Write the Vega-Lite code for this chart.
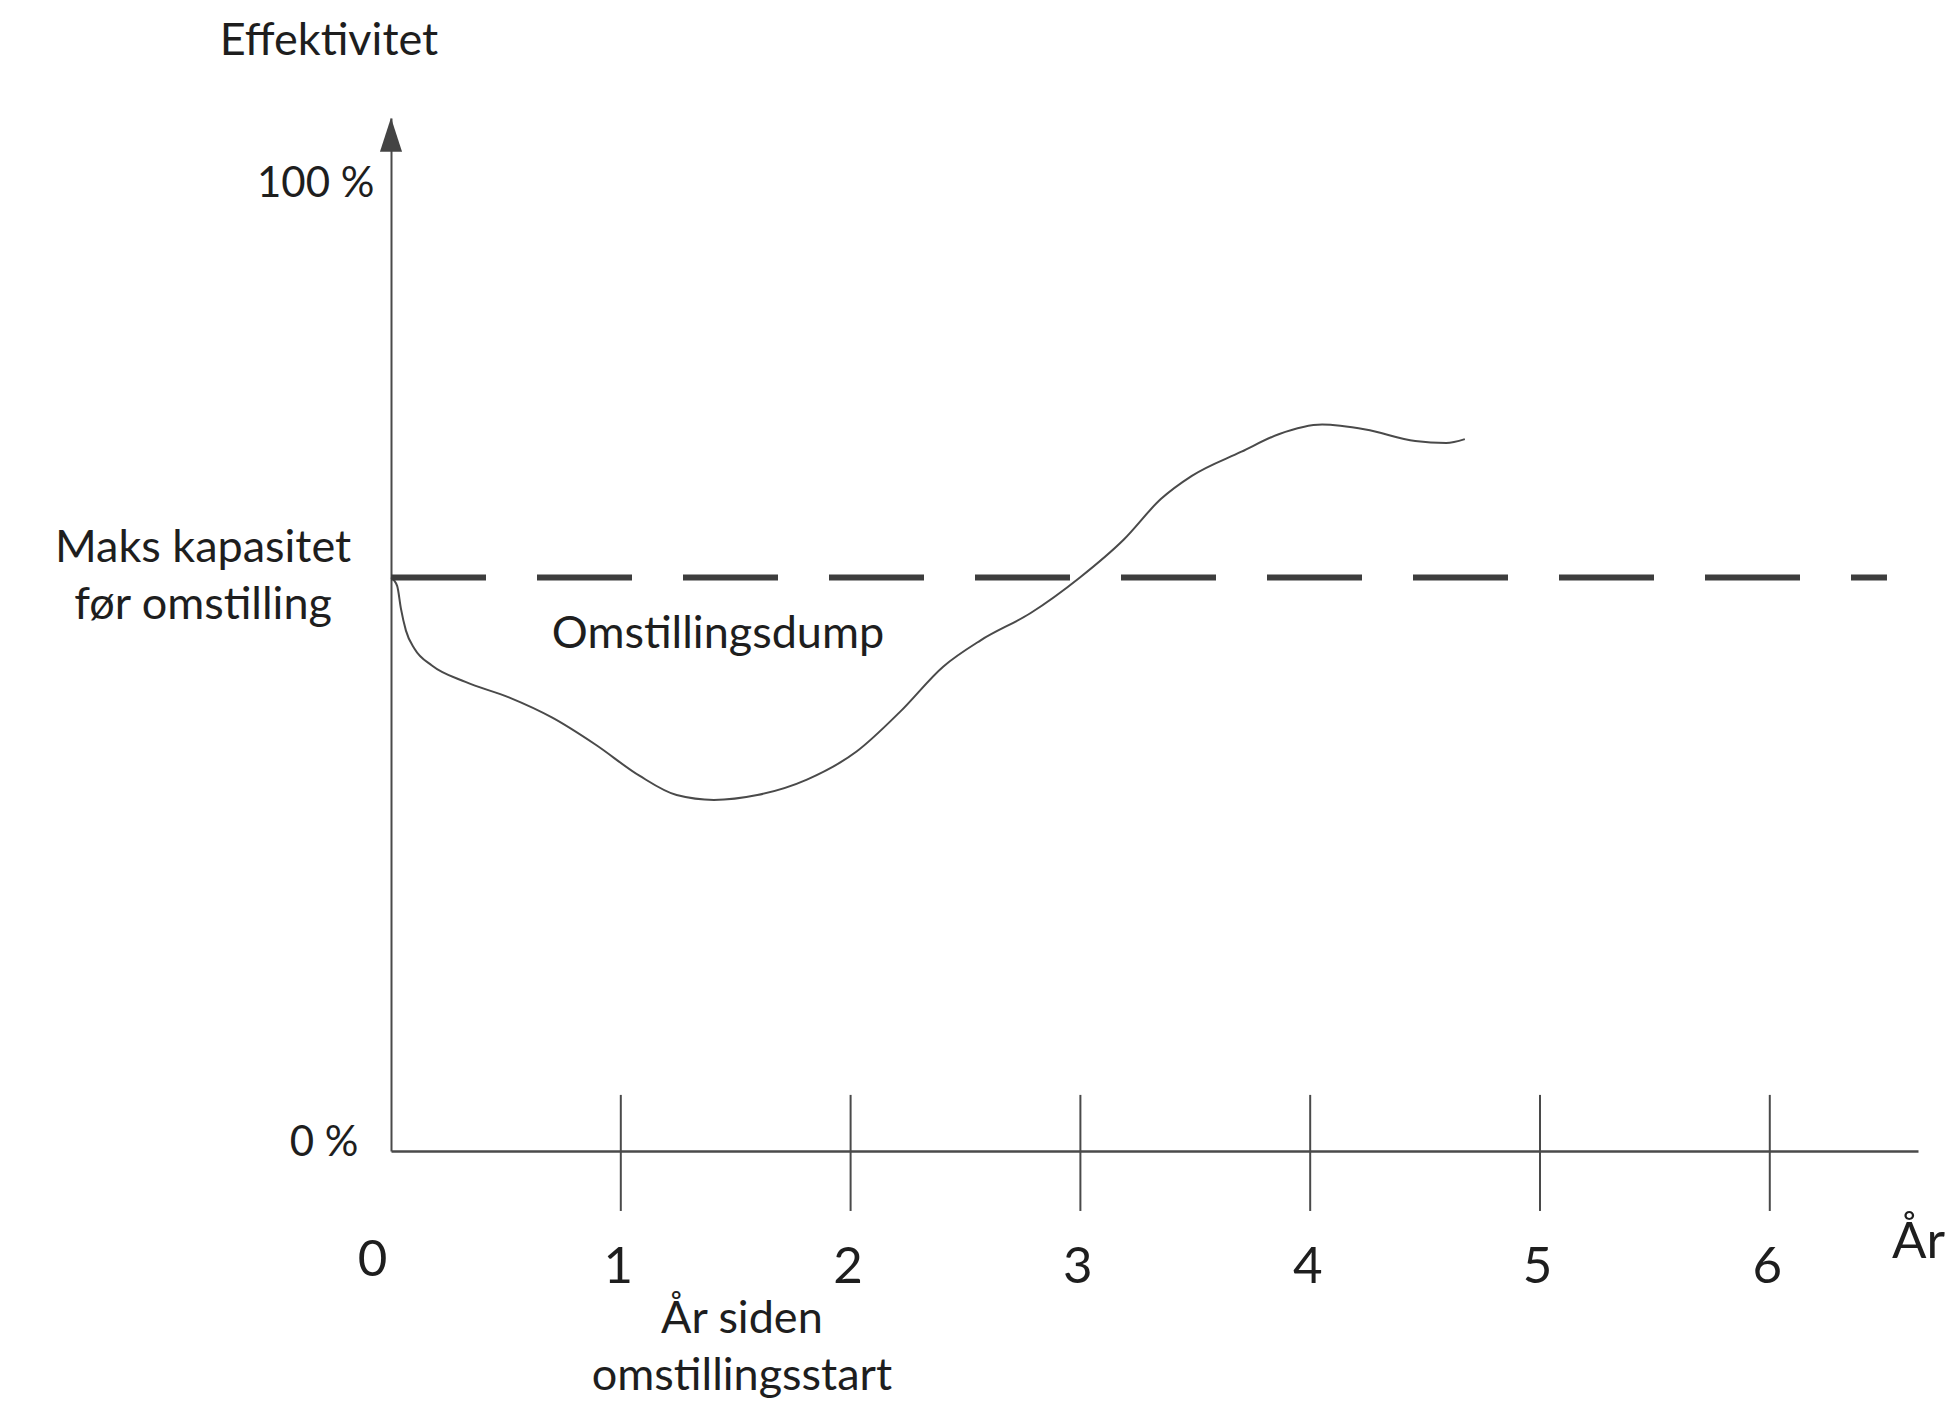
{
  "$schema": "https://vega.github.io/schema/vega-lite/v6.json",
  "width": 1527,
  "height": 1033,
  "autosize": {"type": "none"},
  "padding": {"left": 391, "top": 118, "right": 29, "bottom": 251},
  "background": "white",
  "config": {"view": {"stroke": null}, "font": "Lato"},
  "datasets": {
    "curve": [
      {"year": 0, "efficiency": 59.3},
      {"year": 0.027, "efficiency": 58.4},
      {"year": 0.043, "efficiency": 56.1},
      {"year": 0.065, "efficiency": 53.8},
      {"year": 0.103, "efficiency": 51.9},
      {"year": 0.178, "efficiency": 50.2},
      {"year": 0.324, "efficiency": 48.5},
      {"year": 0.513, "efficiency": 46.9},
      {"year": 0.702, "efficiency": 44.8},
      {"year": 0.891, "efficiency": 42.0},
      {"year": 1.081, "efficiency": 38.8},
      {"year": 1.243, "efficiency": 36.8},
      {"year": 1.405, "efficiency": 36.3},
      {"year": 1.594, "efficiency": 36.8},
      {"year": 1.81, "efficiency": 38.4},
      {"year": 2.026, "efficiency": 41.3},
      {"year": 2.215, "efficiency": 45.4},
      {"year": 2.404, "efficiency": 50.1},
      {"year": 2.566, "efficiency": 52.8},
      {"year": 2.782, "efficiency": 55.6},
      {"year": 2.998, "efficiency": 59.3},
      {"year": 3.188, "efficiency": 63.2},
      {"year": 3.35, "efficiency": 67.4},
      {"year": 3.485, "efficiency": 69.8},
      {"year": 3.701, "efficiency": 72.3},
      {"year": 3.863, "efficiency": 74.1},
      {"year": 4.052, "efficiency": 75.1},
      {"year": 4.241, "efficiency": 74.6},
      {"year": 4.457, "efficiency": 73.4},
      {"year": 4.592, "efficiency": 73.2},
      {"year": 4.673, "efficiency": 73.6}
    ],
    "capacity": [{"year": 0, "year_end": 6.51, "efficiency": 59.3}],
    "ticks": [{"year": 1}, {"year": 2}, {"year": 3}, {"year": 4}, {"year": 5}, {"year": 6}],
    "labels": [
      {"label": "Effektivitet", "year": -0.27, "efficiency": 113.3},
      {"label": "Maks kapasitet\nfør omstilling", "year": -0.818, "efficiency": 60.9},
      {"label": "Omstillingsdump", "year": 1.423, "efficiency": 52.0},
      {"label": "År siden\nomstillingsstart", "year": 1.527, "efficiency": -18.82}
    ],
    "unit": [{"label": "År", "year": 6.532, "efficiency": -11.07}]
  },
  "layer": [
    {
      "data": {"name": "curve"},
      "mark": {"type": "line", "color": "#4a4a4a", "strokeWidth": 2, "interpolate": "monotone"},
      "encoding": {
        "x": {
          "field": "year",
          "type": "quantitative",
          "scale": {"domain": [0, 6.645], "nice": false, "zero": false},
          "axis": {
            "values": [0, 1, 2, 3, 4, 5, 6],
            "format": "d",
            "title": null,
            "grid": false,
            "ticks": false,
            "domainColor": "#4a4a4a",
            "domainWidth": 2.5,
            "labelFont": "Lato",
            "labelFontSize": 51,
            "labelColor": "#1e1e1e",
            "labelBaseline": "middle",
            "labelFlush": false,
            "labelOverlap": false,
            "labelPadding": {"condition": {"test": "datum.value == 0", "value": 109}, "value": 116},
            "labelOffset": {"condition": {"test": "datum.value == 0", "value": -19}, "value": -3}
          }
        },
        "y": {
          "field": "efficiency",
          "type": "quantitative",
          "scale": {"domain": [0, 106.8], "nice": false, "zero": false},
          "axis": {
            "values": [0, 100],
            "labelExpr": "datum.value + ' %'",
            "title": null,
            "grid": false,
            "ticks": false,
            "domainColor": "#4a4a4a",
            "domainWidth": 2,
            "labelFont": "Lato",
            "labelFontSize": 42,
            "labelColor": "#1e1e1e",
            "labelBaseline": "middle",
            "labelFlush": false,
            "labelOverlap": false,
            "labelPadding": {"condition": {"test": "datum.value == 0", "value": 33}, "value": 17},
            "labelOffset": {"condition": {"test": "datum.value == 0", "value": -9}, "value": 0}
          }
        }
      }
    },
    {
      "data": {"name": "ticks"},
      "mark": {"type": "rule", "color": "#4a4a4a", "strokeWidth": 2},
      "encoding": {
        "x": {"field": "year", "type": "quantitative"},
        "y": {"datum": -6.2, "type": "quantitative"},
        "y2": {"datum": 5.8}
      }
    },
    {
      "data": {"name": "capacity"},
      "mark": {"type": "rule", "color": "#3d3d3d", "strokeWidth": 6, "strokeDash": [95, 51]},
      "encoding": {
        "x": {"field": "year", "type": "quantitative"},
        "x2": {"field": "year_end"},
        "y": {"field": "efficiency", "type": "quantitative"}
      }
    },
    {
      "data": {"values": [{"year": 0, "top": 105.07}]},
      "mark": {"type": "point", "shape": "M0,-1L0.65,1L-0.65,1Z", "filled": true, "opacity": 1, "color": "#444444", "size": 1156},
      "encoding": {
        "x": {"field": "year", "type": "quantitative"},
        "y": {"field": "top", "type": "quantitative"}
      }
    },
    {
      "data": {"name": "labels"},
      "mark": {"type": "text", "align": "center", "baseline": "alphabetic", "fontSize": 45, "lineHeight": 57, "lineBreak": "\n", "color": "#1e1e1e", "font": "Lato"},
      "encoding": {
        "x": {"field": "year", "type": "quantitative"},
        "y": {"field": "efficiency", "type": "quantitative"},
        "text": {"field": "label"}
      }
    },
    {
      "data": {"name": "unit"},
      "mark": {"type": "text", "align": "left", "baseline": "alphabetic", "fontSize": 51, "color": "#1e1e1e", "font": "Lato"},
      "encoding": {
        "x": {"field": "year", "type": "quantitative"},
        "y": {"field": "efficiency", "type": "quantitative"},
        "text": {"field": "label"}
      }
    }
  ]
}
